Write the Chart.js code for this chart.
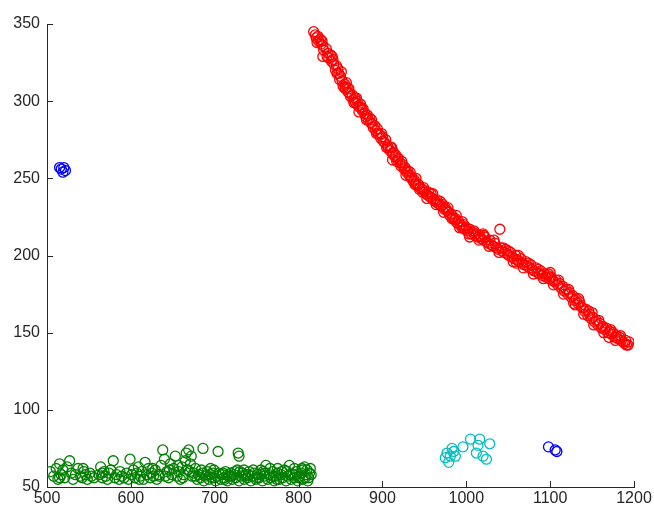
<!DOCTYPE html>
<html>
<head>
<meta charset="utf-8">
<title>Clusters</title>
<script src="https://cdn.jsdelivr.net/npm/chart.js@4.4.1/dist/chart.umd.min.js"></script>
<style>
    html, body { margin: 0; padding: 0; background: #ffffff; }
    #wrap { width: 654px; height: 509px; position: relative; }
</style>
</head>
<body>
<div id="wrap"><canvas id="clusterChart"></canvas></div>
<script>
// ==========================================
// DATA
// ==========================================

const xTicks = [500, 600, 700, 800, 900, 1000, 1100, 1200];
const yTicks = [50, 100, 150, 200, 250, 300, 350];

// red cluster: long decreasing band
const redPoints = [
    [818,345],[820,343],[821,341],[823,342],[824,339],[826,340],[827,337],[829,336],[830,333],[829,329],
    [833,334],[835,331],[836,328],[838,330],[839,326],[841,327],[842,324],[844,320],[845,323],[847,321],
    [848,318],[849,314],[850,316],[852,313],[853,310],[855,311],[856,308],[857,312],[858,309],[859,306],
    [861,305],[862,303],[864,304],[865,301],[867,302],[868,299],[870,300],[871,297],[872,293],[873,296],
    [874,298],[876,294],[877,295],[879,292],[880,290],[882,291],[883,288],[885,289],[886,286],[888,285],
    [889,283],[891,284],[892,281],[894,282],[895,279],[897,278],[898,276],[900,277],[901,274],[903,273],
    [904,275],[906,271],[907,270],[909,268],[910,270],[912,266],[912,262],[913,267],[915,264],[916,265],
    [918,262],[919,263],[921,260],[922,258],[924,259],[926,256],[927,257],[929,254],[930,255],[932,252],
    [934,250],[935,251],[937,248],[938,249],[940,247],[940,250],[942,245],[943,246],[945,244],[947,243],
    [948,241],[950,242],[952,240],[954,239],[955,241],[957,238],[959,237],[960,240],[961,236],[963,235],
    [965,236],[966,234],[968,233],[970,232],[972,233],[974,230],[975,231],[977,229],[979,228],[980,226],
    [982,227],[984,225],[986,223],[987,224],[989,221],[991,222],[993,220],[995,218],[995,222],[996,219],
    [998,217],[1000,218],[1002,216],[1004,217],[1004,212],[1006,214],[1008,215],[1010,213],[1012,214],[1014,212],
    [1016,213],[1018,211],[1020,210],[1020,214],[1022,212],[1024,209],[1026,208],[1028,210],[1030,207],[1032,206],
    [1034,208],[1036,205],[1038,204],[1040,217],[1041,205],[1043,203],[1045,202],[1047,204],[1049,201],[1051,200],
    [1053,202],[1055,199],[1057,198],[1059,200],[1060,195],[1061,197],[1063,196],[1065,198],[1067,195],[1069,194],
    [1071,196],[1073,193],[1075,192],[1077,194],[1079,191],[1081,190],[1083,192],[1085,189],[1087,188],[1089,190],
    [1091,187],[1093,188],[1095,186],[1097,187],[1099,185],[1100,189],[1101,186],[1103,184],[1105,183],[1107,184],
    [1109,181],[1111,182],[1113,179],[1115,180],[1117,177],[1119,178],[1121,175],[1123,176],[1125,173],[1127,174],
    [1129,171],[1130,168],[1131,172],[1133,169],[1135,170],[1137,167],[1139,166],[1141,164],[1143,165],[1145,161],
    [1147,162],[1149,159],[1150,163],[1151,160],[1153,157],[1155,158],[1157,155],[1159,156],[1161,153],[1163,154],
    [1165,152],[1167,153],[1169,150],[1170,147],[1171,151],[1173,149],[1175,150],[1177,147],[1179,148],[1181,146],
    [1183,147],[1185,145],[1187,144],[1189,143],[1191,142],[1193,142],[1194,144],
    // second pass, slightly off the centre line
    [822,338],[828,339],[834,329],[840,329],[846,318],[851,319],[854,309],[860,308],[866,299],[869,302],
    [875,296],[881,288],[887,288],[893,279],[899,279],[905,270],[911,270],[917,261],[923,261],[928,252],
    [933,254],[939,246],[944,243],[949,244],[953,237],[958,240],[964,233],[969,235],[973,228],[978,231],
    [983,224],[988,226],[992,218],[997,220],[1003,214],[1009,216],[1015,210],[1021,213],[1027,206],[1033,210],
    [1039,202],[1044,205],[1050,203],[1056,196],[1062,200],[1068,192],[1074,195],[1080,188],[1086,191],[1092,185],
    [1098,188],[1104,181],[1110,184],[1116,175],[1122,178],[1128,169],[1134,172],[1140,162],[1146,164],[1152,155],
    [1158,158],[1164,150],[1172,152],[1178,145],[1184,148],[1190,145]
];

// green cluster: flat band near the bottom
const greenPoints = [
    [504,60],[508,57],[511,62],[513,55],[515,65],[517,58],[519,61],[521,56],[524,63],[527,67],
    [529,59],[531,55],[534,58],[537,62],[540,57],[542,56],[544,60],[546,58],[548,55],[551,59],
    [553,57],[556,56],[562,58],[564,63],[566,56],[568,60],[570,57],[572,55],[574,59],[576,61],
    [579,67],[581,56],[583,58],[586,55],[589,57],[592,56],[595,59],[597,55],[599,68],[601,58],
    [603,61],[605,56],[607,59],[609,63],[611,57],[613,60],[615,55],[617,66],[619,58],[621,62],
    [623,56],[625,59],[627,57],[629,61],[631,55],[633,58],[636,64],[638,74],[640,68],[641,57],
    [643,60],[645,56],[647,65],[649,58],[651,62],[653,70],[655,57],[657,60],[659,55],[661,63],
    [663,58],[665,67],[666,72],[668,61],[669,74],[671,65],[672,70],[673,57],[675,59],[677,62],
    [679,55],[681,58],[686,75],[704,73],[728,72],[729,70],
    [683,56],[685,59],[687,54],[689,57],[691,60],[693,55],[695,58],[697,56],[699,61],[701,54],
    [703,57],[705,59],[707,55],[709,58],[711,56],[713,60],[715,54],[717,57],[719,59],[721,55],
    [723,58],[725,56],[727,61],[729,54],[731,57],[733,59],[735,55],[737,58],[739,56],[741,60],
    [743,54],[745,57],[747,59],[749,55],[751,58],[753,56],[755,61],[757,54],[759,57],[761,64],
    [763,55],[765,58],[767,56],[769,60],[771,54],[773,57],[775,59],[777,55],[779,58],[781,56],
    [783,61],[785,54],[787,57],[789,64],[791,55],[793,58],[795,56],[797,60],[799,54],[801,57],
    [803,59],[805,55],[807,63],[809,58],[810,61],[812,56],[813,59],[811,54],[814,62],
    [690,58],[700,56],[710,59],[720,57],[730,60],[740,58],[750,56],[760,59],[770,57],[780,60],
    [790,58],[800,56],[805,61],[795,62],[775,62],[755,58],[735,61],[715,58],[695,62],
    [684,61],[698,59],[712,55],[724,60],[736,57],[746,61],[758,60],[766,62],[774,55],[786,60],
    [796,58],[804,62],[808,56],[815,58],[515,56],[543,62],[566,59],[587,60],[610,55],[626,62],
    [634,57],[646,61],[656,64],[662,56],[670,60],[676,57]
];

// cyan cluster
const cyanPoints = [
    [983,75],[977,72],[975,69],[979,66],[987,70],[985,73],[981,70],[996,76],[1005,81],[1016,81],
    [1014,77],[1028,78],[1012,72],[1020,70],[1024,68]
];

// blue clusters
const bluePoints = [
    [517,256],[520,257],[522,255],[515,257],[519,254],[1098,76],[1108,73],[1106,74]
];

// ==========================================
// CHART
// ==========================================

const axisColor = '#262626';

function toXY(list) {
    return list.map(p => ({ x: p[0], y: p[1] }));
}

function makeSet(list, color) {
    return {
        data: toXY(list),
        borderColor: color,
        backgroundColor: 'rgba(0,0,0,0)',
        borderWidth: 1.3,
        pointRadius: 5,
        pointHoverRadius: 5,
        pointStyle: 'circle'
    };
}

// short tick marks pointing into the plot area
const innerTicks = {
    id: 'innerTicks',
    afterDraw(chart) {
        const ctx = chart.ctx;
        const xs = chart.scales.x;
        const ys = chart.scales.y;
        ctx.save();
        ctx.strokeStyle = axisColor;
        ctx.lineWidth = 1;
        ctx.beginPath();
        xs.ticks.forEach(t => {
            const px = Math.round(xs.getPixelForValue(t.value)) + 0.5;
            ctx.moveTo(px, xs.top);
            ctx.lineTo(px, xs.top - 6);
        });
        ys.ticks.forEach(t => {
            const py = Math.round(ys.getPixelForValue(t.value)) + 0.5;
            ctx.moveTo(ys.right, py);
            ctx.lineTo(ys.right + 6, py);
        });
        ctx.stroke();
        ctx.restore();
    }
};

const tickFont = { family: 'Liberation Sans, Arial, sans-serif', size: 16 };

new Chart(document.getElementById('clusterChart'), {
    type: 'scatter',
    data: {
        datasets: [
            makeSet(redPoints, '#ff0000'),
            makeSet(greenPoints, '#007f00'),
            makeSet(cyanPoints, '#00bfbf'),
            makeSet(bluePoints, '#0000ff')
        ]
    },
    options: {
        responsive: true,
        maintainAspectRatio: false,
        animation: false,
        events: [],
        layout: { padding: { left: 0, right: 20, top: 24, bottom: 0 } },
        plugins: {
            legend: { display: false },
            tooltip: { enabled: false }
        },
        scales: {
            x: {
                type: 'linear',
                min: 500,
                max: 1200,
                afterBuildTicks: s => { s.ticks = xTicks.map(v => ({ value: v })); },
                afterFit: s => { s.height = 22; },
                grid: { drawOnChartArea: false, drawTicks: false },
                border: { display: true, color: axisColor, width: 1 },
                ticks: { color: axisColor, font: tickFont, padding: 2, maxRotation: 0, callback: v => String(v) }
            },
            y: {
                type: 'linear',
                min: 50,
                max: 350,
                afterBuildTicks: s => { s.ticks = yTicks.map(v => ({ value: v })); },
                afterFit: s => { s.width = 47; },
                grid: { drawOnChartArea: false, drawTicks: false },
                border: { display: true, color: axisColor, width: 1 },
                ticks: { color: axisColor, font: tickFont, padding: 7, callback: v => String(v) }
            }
        }
    },
    plugins: [innerTicks]
});
</script>
</body>
</html>
